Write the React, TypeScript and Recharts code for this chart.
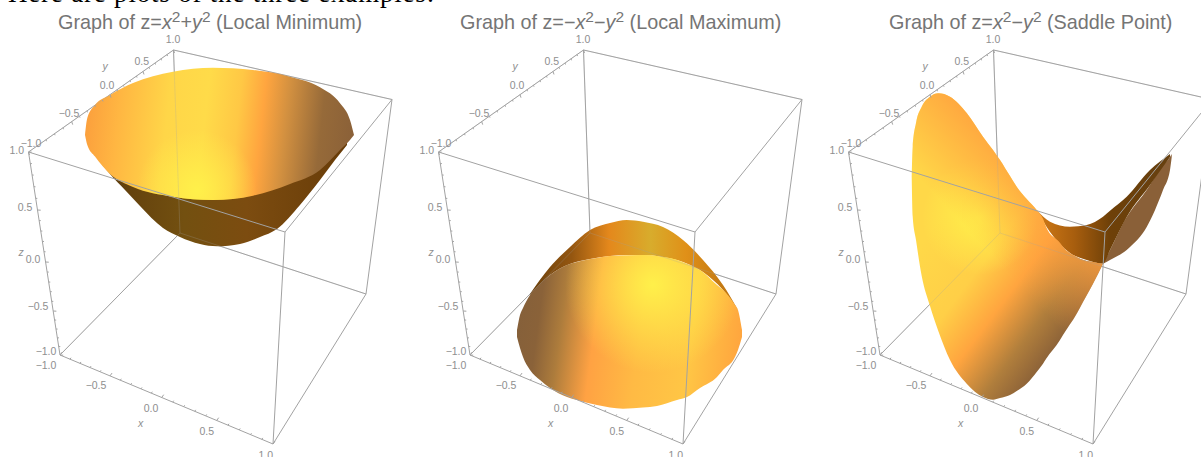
import { ReactNode } from 'react'
import { Area, ComposedChart, Line, Scatter, XAxis, YAxis } from 'recharts'

const PANEL_W = 410
const PANEL_H = 457

// box corners
const cornerA = { x: 28.5, y: 152 }
const cornerB = { x: 173.5, y: 50 }
const cornerC = { x: 392, y: 99.5 }
const cornerD = { x: 285, y: 232 }
const cornerE = { x: 60, y: 355 }
const cornerF = { x: 273, y: 444 }
const cornerG = { x: 366, y: 294 }
const cornerH = { x: 180, y: 233 }

// tick positions along each axis (perspective makes them uneven)
const xAxisTickX = [60, 70, 80, 90, 100, 110, 120.3, 130.7, 141, 151.3, 161.7, 172.7, 183.7, 194.7, 205.7, 216.7, 228, 239.2, 250.5, 261.8, 273]
const yAxisTickX = [28.5, 37.5, 46, 54.5, 63, 71.7, 79.5, 87, 95, 102.5, 110, 117, 123.5, 130, 136.5, 143, 149, 155, 161, 167, 173.5]
const zAxisTickY = [152, 163.5, 175, 186.7, 198.3, 210, 220.5, 231, 241.4, 251.7, 262, 272, 282, 291.6, 301.3, 311, 320, 329, 337.8, 346.4, 355]

const zLabels = [
  { x: 16.7, y: 150, label: '1.0' },
  { x: 25, y: 207, label: '0.5' },
  { x: 33, y: 259, label: '0.0' },
  { x: 38, y: 306, label: '−0.5' },
  { x: 46, y: 351, label: '−1.0' },
]
const yLabels = [
  { x: 31, y: 142.5, label: '−1.0' },
  { x: 69, y: 112.7, label: '−0.5' },
  { x: 107, y: 85, label: '0.0' },
  { x: 141.7, y: 61, label: '0.5' },
  { x: 173, y: 39, label: '1.0' },
]
const xLabels = [
  { x: 46, y: 365, label: '−1.0' },
  { x: 96, y: 385.3, label: '−0.5' },
  { x: 151, y: 408, label: '0.0' },
  { x: 206.7, y: 431, label: '0.5' },
  { x: 265.7, y: 455, label: '1.0' },
]
const axisNames = [
  { x: 21, y: 252, label: 'z' },
  { x: 105, y: 66, label: 'y' },
  { x: 140.7, y: 422.7, label: 'x' },
]

// bowl
const bowlRimX = [85, 87.3, 95, 110, 133, 173, 213, 253, 290, 320, 340, 350, 354]
const bowlRimTop = [135, 118, 105, 95, 83, 71.7, 67.7, 70, 76.7, 87.3, 103.3, 120, 135]
const bowlRimBottom = [135, 145, 156.6, 174, 187, 196.7, 200, 195.7, 184, 170, 150, 140, 135]
const bowlOuterX = [97, 110, 125, 140, 163, 180, 200, 217, 240, 260, 277, 300, 320, 335, 347]
const bowlOuterTop = [150, 160, 170, 175, 185, 190, 190, 190, 190, 190, 180, 170, 160, 150, 140]
const bowlOuterBottom = [158, 174, 190, 206, 228, 237, 244, 246.3, 244, 237, 229, 205, 180, 160, 145]

// dome
const domeBackX = [120, 140, 160, 180, 200, 216.7, 233, 253, 273, 293, 313, 328]
const domeBackTop = [294, 267, 247, 230, 223, 220, 221.7, 227, 240, 260, 285, 310]
const domeBackBottom = [295, 275, 264, 259, 256, 255, 255, 257, 262, 272, 290, 310]
const domeFrontX = [107, 110, 113, 120, 130, 140, 157, 167, 187, 200, 213, 233, 247, 267, 277, 290, 307, 313, 325, 328, 332]
const domeFrontTop = [330, 315, 308, 295, 284, 275, 265, 262, 258, 256, 255.5, 255, 256, 260, 264, 270, 285, 290, 305, 310, 330]
const domeFrontBottom = [337, 348, 357, 370, 380, 388, 397, 400, 405, 407.5, 408.7, 407.5, 406, 400, 397, 388, 377, 370, 357, 350, 337]

// saddle
const saddleX = [91.7, 92.7, 96, 101.7, 110, 118.3, 130, 146.7, 163, 173, 180, 190, 196.7, 206.7, 216.7, 223, 226, 240, 243, 256.7, 263, 273, 283]
const saddleTop = [176.7, 146.7, 123, 106.7, 96.7, 93.3, 96.7, 113, 136.7, 150, 160, 176, 186.7, 199, 210, 219, 227, 243, 247, 257, 260, 262, 263.7]
const saddleBottom = [176.7, 216.7, 240, 276, 306, 331, 360, 383.7, 397, 399.7, 398, 395, 391, 383.7, 372, 363.7, 359, 340, 335, 313.7, 302, 283.7, 263.7]
const saddleDarkX = [216.7, 230, 250, 266.7, 283, 290, 306.7, 330, 350]
const saddleDarkTop = [210, 221.7, 226.7, 225, 216.7, 210.7, 196.7, 170, 154]
const saddleDarkBottom = [210, 232, 253, 260, 263.7, 250, 217, 185, 157]
const saddleWingX = [283, 290, 306.7, 310, 326.7, 343, 350, 351.7]
const saddleWingTop = [263.7, 250, 217, 212, 190, 165, 157, 154]
const saddleWingBottom = [263.7, 260, 250, 247, 227, 190, 170, 157]

const zip = (xs: number[], top: number[], bottom: number[]) =>
  xs.map((x, i) => ({ x, top: top[i], bottom: bottom[i] }))

const onEdge = (a: { x: number; y: number }, b: { x: number; y: number }, x: number) =>
  a.y + ((x - a.x) * (b.y - a.y)) / (b.x - a.x)

const segments = (pairs: { x: number; y: number }[][]) =>
  pairs.flatMap(p => [...p, { x: p[p.length - 1].x, y: null as number | null }])

function tickSegs(points: { x: number; y: number }[], dx: number, dy: number) {
  return segments(
    points.map((p, i) => {
      const k = i % 5 === 0 ? 2 : 1
      return [p, { x: p.x + dx * k, y: p.y + dy * k }]
    }),
  )
}

const backEdges = segments([
  [cornerA, cornerB],
  [cornerB, cornerC],
  [cornerB, cornerH],
  [cornerE, cornerH],
  [cornerH, cornerG],
])
const frontEdges = segments([
  [cornerA, cornerD],
  [cornerD, cornerC],
  [cornerD, cornerF],
  [cornerA, cornerE],
  [cornerE, cornerF],
  [cornerF, cornerG],
  [cornerC, cornerG],
])
const ticks = [
  ...tickSegs(xAxisTickX.map(x => ({ x, y: onEdge(cornerE, cornerF, x) })), 1, -1.4),
  ...tickSegs(yAxisTickX.map(x => ({ x, y: onEdge(cornerA, cornerB, x) })), 0.5, 1.5),
  ...tickSegs(zAxisTickY.map(y => ({ x: onEdge({ x: cornerA.y, y: cornerA.x }, { x: cornerE.y, y: cornerE.x }, y), y })), 1.6, 0.1),
]

const LINE = '#a2a2a2'

function Layer({ children }: { children: ReactNode }) {
  return (
    <ComposedChart
      width={PANEL_W}
      height={PANEL_H}
      margin={{ top: 0, right: 0, bottom: 0, left: 0 }}
      style={{ position: 'absolute', left: 0, top: 0 }}
    >
      <XAxis hide dataKey="x" type="number" domain={[0, PANEL_W]} allowDataOverflow />
      <YAxis hide dataKey="y" type="number" domain={[0, PANEL_H]} reversed allowDataOverflow />
      {children}
    </ComposedChart>
  )
}

function Surface({ data, fill }: { data: { x: number; top: number; bottom: number }[]; fill: string }) {
  return (
    <Area
      data={data}
      dataKey={(d: { top: number; bottom: number }) => [d.top, d.bottom]}
      type="monotoneX"
      fill={fill}
      fillOpacity={1}
      stroke="none"
      dot={false}
      activeDot={false}
      isAnimationActive={false}
    />
  )
}

function TickText(props: any) {
  const italic = props.payload.label.length === 1
  return (
    <text
      x={props.cx}
      y={props.cy}
      textAnchor="middle"
      dominantBaseline="central"
      fontFamily="'Liberation Sans', Arial, sans-serif"
      fontSize={10.5}
      fontStyle={italic ? 'italic' : 'normal'}
      fill="#8e8e8e"
      opacity={0.99}
    >
      {props.payload.label}
    </text>
  )
}

function Gradients() {
  return (
    <svg width={0} height={0} style={{ position: 'absolute' }}>
      <defs>
        <linearGradient id="bowlRim" gradientUnits="userSpaceOnUse" x1="85" y1="120" x2="354" y2="150">
          <stop offset="0%" stopColor="#fb9f3d" />
          <stop offset="12%" stopColor="#ffb642" />
          <stop offset="30%" stopColor="#ffd648" />
          <stop offset="44%" stopColor="#ffdb49" />
          <stop offset="56%" stopColor="#ffc845" />
          <stop offset="65%" stopColor="#ffa53f" />
          <stop offset="74%" stopColor="#d29040" />
          <stop offset="87%" stopColor="#966a39" />
          <stop offset="100%" stopColor="#8a6038" />
        </linearGradient>
        <radialGradient id="bowlGlow" gradientUnits="userSpaceOnUse" cx="197" cy="190" r="60">
          <stop offset="0%" stopColor="#fff04a" stopOpacity={1} />
          <stop offset="100%" stopColor="#fff04a" stopOpacity={0} />
        </radialGradient>
        <linearGradient id="bowlOuter" x1="0" y1="0" x2="1" y2="0">
          <stop offset="0%" stopColor="#5c3a0c" />
          <stop offset="35%" stopColor="#735010" />
          <stop offset="60%" stopColor="#7c4c10" />
          <stop offset="100%" stopColor="#683c08" />
        </linearGradient>
        <linearGradient id="domeBack" x1="0" y1="0" x2="1" y2="0">
          <stop offset="0%" stopColor="#6a400c" />
          <stop offset="20%" stopColor="#945610" />
          <stop offset="38%" stopColor="#e4881c" />
          <stop offset="58%" stopColor="#d8ac2c" />
          <stop offset="75%" stopColor="#e09018" />
          <stop offset="100%" stopColor="#b87010" />
        </linearGradient>
        <linearGradient id="domeFront" gradientUnits="userSpaceOnUse" x1="107" y1="310" x2="332" y2="340">
          <stop offset="0%" stopColor="#85603a" />
          <stop offset="10%" stopColor="#8a6239" />
          <stop offset="20%" stopColor="#ad7c3c" />
          <stop offset="35%" stopColor="#ffa243" />
          <stop offset="55%" stopColor="#ffba44" />
          <stop offset="78%" stopColor="#ffc645" />
          <stop offset="100%" stopColor="#ffa53e" />
        </linearGradient>
        <radialGradient id="domeGlow" gradientUnits="userSpaceOnUse" cx="243" cy="285" r="88">
          <stop offset="0%" stopColor="#fff04a" stopOpacity={1} />
          <stop offset="100%" stopColor="#fff04a" stopOpacity={0} />
        </radialGradient>
        <linearGradient id="saddleMain" gradientUnits="userSpaceOnUse" x1="90" y1="260" x2="250" y2="380">
          <stop offset="0%" stopColor="#ffd848" />
          <stop offset="30%" stopColor="#ffcf47" />
          <stop offset="50%" stopColor="#ffa53f" />
          <stop offset="70%" stopColor="#b07e3c" />
          <stop offset="85%" stopColor="#8c6238" />
          <stop offset="100%" stopColor="#8a6038" />
        </linearGradient>
        <radialGradient id="saddleGlow" gradientUnits="userSpaceOnUse" cx="160" cy="217" r="58">
          <stop offset="0%" stopColor="#fff04a" stopOpacity={1} />
          <stop offset="100%" stopColor="#fff04a" stopOpacity={0} />
        </radialGradient>
        <linearGradient id="saddleTopTint" gradientUnits="userSpaceOnUse" x1="185" y1="130" x2="115" y2="195">
          <stop offset="0%" stopColor="#ff9f3e" stopOpacity={1} />
          <stop offset="100%" stopColor="#ff9f3e" stopOpacity={0} />
        </linearGradient>
        <linearGradient id="saddleDark" x1="0" y1="0" x2="1" y2="0">
          <stop offset="0%" stopColor="#d07a16" />
          <stop offset="28%" stopColor="#a85e0e" />
          <stop offset="55%" stopColor="#6e4008" />
          <stop offset="100%" stopColor="#664010" />
        </linearGradient>
      </defs>
    </svg>
  )
}

function Panel({ left, title, surface }: { left: number; title: ReactNode; surface: ReactNode }) {
  return (
    <div style={{ position: 'absolute', left: left, top: 0, width: PANEL_W, height: PANEL_H }}>
      <Layer>
        <Line data={backEdges} dataKey="y" stroke={LINE} strokeWidth={1} dot={false} activeDot={false} isAnimationActive={false} />
      </Layer>
      <Layer>{surface}</Layer>
      <Layer>
        {/* back edges show faintly through the surface */}
        <Line data={backEdges} dataKey="y" stroke={LINE} strokeWidth={1} strokeOpacity={0.25} dot={false} activeDot={false} isAnimationActive={false} />
        <Line data={frontEdges} dataKey="y" stroke={LINE} strokeWidth={1} dot={false} activeDot={false} isAnimationActive={false} />
        <Line data={ticks} dataKey="y" stroke={LINE} strokeWidth={1} dot={false} activeDot={false} isAnimationActive={false} />
        <Scatter data={[...zLabels, ...yLabels, ...xLabels, ...axisNames]} shape={TickText} isAnimationActive={false} />
      </Layer>
      {title}
    </div>
  )
}

function Title({ left, children }: { left: number; children: ReactNode }) {
  return (
    <div
      style={{
        position: 'absolute',
        left,
        top: 10,
        fontFamily: "'Liberation Sans', Arial, sans-serif",
        fontSize: 19.8,
        lineHeight: '24px',
        color: '#757575',
        whiteSpace: 'nowrap',
      }}
    >
      {children}
    </div>
  )
}

const Sq = () => <span style={{ fontSize: 15.5, position: 'relative', top: -7 }}>2</span>

export default function App() {
  return (
    <div style={{ position: 'absolute', left: 0, top: 0, width: 1201, height: 457, overflow: 'hidden', background: '#fff' }}>
      <Gradients />
      <div
        style={{
          position: 'absolute',
          left: 8,
          top: -20,
          fontFamily: "'Liberation Serif', serif",
          fontSize: 27,
          letterSpacing: 0.8,
          lineHeight: '26px',
          whiteSpace: 'nowrap',
          color: '#000',
        }}
      >
        Here are plots of the three examples:
      </div>
      <Panel
        left={0}
        title={
          <Title left={58}>
            Graph of z=<i>x</i>
            <Sq />+<i>y</i>
            <Sq /> (Local Minimum)
          </Title>
        }
        surface={[
          <Surface key="a" data={zip(bowlOuterX, bowlOuterTop, bowlOuterBottom)} fill="url(#bowlOuter)" />,
          <Surface key="b" data={zip(bowlRimX, bowlRimTop, bowlRimBottom)} fill="url(#bowlRim)" />,
          <Surface key="c" data={zip(bowlRimX, bowlRimTop, bowlRimBottom)} fill="url(#bowlGlow)" />,
        ]}
      />
      <Panel
        left={410}
        title={
          <Title left={50}>
            Graph of z=−<i>x</i>
            <Sq />−<i>y</i>
            <Sq /> (Local Maximum)
          </Title>
        }
        surface={[
          <Surface key="a" data={zip(domeBackX, domeBackTop, domeBackBottom)} fill="url(#domeBack)" />,
          <Surface key="b" data={zip(domeFrontX, domeFrontTop, domeFrontBottom)} fill="url(#domeFront)" />,
          <Surface key="c" data={zip(domeFrontX, domeFrontTop, domeFrontBottom)} fill="url(#domeGlow)" />,
        ]}
      />
      <Panel
        left={820}
        title={
          <Title left={69}>
            Graph of z=<i>x</i>
            <Sq />−<i>y</i>
            <Sq /> (Saddle Point)
          </Title>
        }
        surface={[
          <Surface key="a" data={zip(saddleWingX, saddleWingTop, saddleWingBottom)} fill="#8a6038" />,
          <Surface key="b" data={zip(saddleDarkX, saddleDarkTop, saddleDarkBottom)} fill="url(#saddleDark)" />,
          <Surface key="c" data={zip(saddleX, saddleTop, saddleBottom)} fill="url(#saddleMain)" />,
          <Surface key="d" data={zip(saddleX, saddleTop, saddleBottom)} fill="url(#saddleGlow)" />,
          <Surface key="e" data={zip(saddleX, saddleTop, saddleBottom)} fill="url(#saddleTopTint)" />,
        ]}
      />
    </div>
  )
}
